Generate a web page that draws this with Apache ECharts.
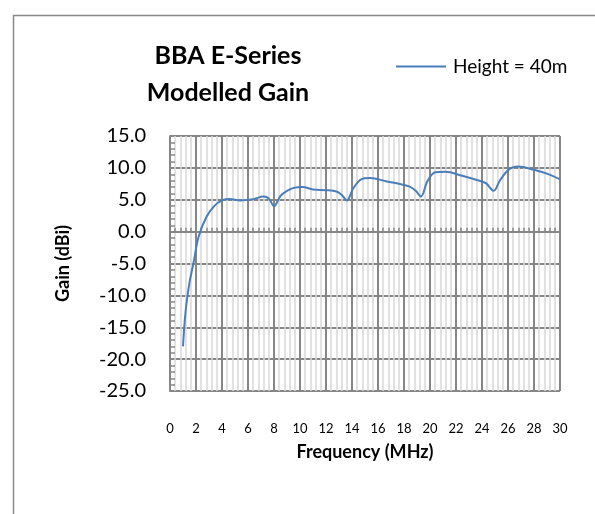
<!DOCTYPE html>
<html>
<head>
<meta charset="utf-8">
<script src="https://cdn.jsdelivr.net/npm/echarts@6/dist/echarts.min.js"></script>
<style>
  html, body { margin: 0; padding: 0; background: #fff; }
  #chart { width: 595px; height: 514px; }
</style>
</head>
<body>
<div id="chart"></div>
<script>
// Data
const freqMHz = [1.0, 1.2, 1.5, 1.8, 2.2, 2.8, 3.4, 4.0, 4.6, 5.4, 6.4, 7.2, 7.6, 8.0, 8.5, 9.0, 9.6, 10.2, 11.0, 12.0, 12.8, 13.2, 13.6, 14.1, 14.7, 15.4, 16.6, 17.6, 18.4, 18.9, 19.3, 19.8, 20.4, 21.2, 22.4, 23.6, 24.3, 24.9, 25.4, 26.1, 26.8, 28.0, 29.0, 30.0];
const gainDbi = [-18.0, -12.5, -8.0, -5.0, -0.8, 2.3, 4.0, 4.9, 5.1, 4.9, 5.1, 5.5, 5.2, 4.0, 5.6, 6.4, 6.9, 7.0, 6.6, 6.5, 6.3, 5.8, 4.9, 6.8, 8.2, 8.4, 7.9, 7.5, 7.1, 6.4, 5.5, 7.9, 9.3, 9.4, 8.8, 8.1, 7.6, 6.4, 8.1, 9.8, 10.2, 9.7, 9.1, 8.2];
const seriesName = 'Height = 40m';
const titleLines = ['BBA E-Series', 'Modelled Gain'];

const FONT = 'Lato, "Liberation Sans", sans-serif';
const GRID_COLOR = '#868686';

let chart = echarts.init(document.getElementById('chart'));

const points = freqMHz.map((f, i) => [f, gainDbi[i]]);

chart.setOption({
    animation: false,
    backgroundColor: '#fff',
    graphic: [{
        type: 'rect',
        shape: { x: 13.5, y: 15.5, width: 640, height: 540 },
        style: { fill: 'none', stroke: '#898989', lineWidth: 1.5 },
        silent: true
    }],
    title: {
        text: titleLines.join('\n'),
        left: 223,
        top: 32,
        textAlign: 'center',
        textStyle: {
            fontFamily: FONT,
            fontWeight: 'bold',
            fontSize: 25,
            lineHeight: 37,
            color: '#000'
        }
    },
    legend: {
        left: 391,
        top: 52,
        icon: 'rect',
        itemWidth: 50,
        itemHeight: 2,
        itemGap: 8,
        textStyle: { fontFamily: FONT, fontSize: 19, color: '#000', padding: [0, 0, 0, 2] },
        data: [seriesName]
    },
    grid: { left: 170, top: 136, width: 390, height: 255, containLabel: false },
    xAxis: {
        type: 'value',
        min: 0,
        max: 30,
        interval: 2,
        name: 'Frequency (MHz)',
        nameLocation: 'middle',
        nameGap: 52,
        nameTextStyle: { fontFamily: FONT, fontWeight: 'bold', fontSize: 18, color: '#000' },
        axisLine: { show: true, lineStyle: { color: GRID_COLOR, width: 2 } },
        axisTick: { show: false, inside: true },
        minorTick: { show: true, splitNumber: 5, length: 4, lineStyle: { color: GRID_COLOR, width: 1.5 } },
        axisLabel: { margin: 31, fontFamily: FONT, fontSize: 13, color: '#000' },
        splitLine: { show: true, lineStyle: { color: GRID_COLOR, width: 2 } },
        minorSplitLine: { show: true, lineStyle: { color: '#d9d9d9', width: 1.5 } }
    },
    yAxis: {
        type: 'value',
        min: -25,
        max: 15,
        interval: 5,
        name: 'Gain (dBi)',
        nameLocation: 'middle',
        nameGap: 98,
        nameTextStyle: { fontFamily: FONT, fontWeight: 'bold', fontSize: 18, color: '#000' },
        axisLine: { show: true, lineStyle: { color: GRID_COLOR, width: 2 } },
        axisTick: { show: false, inside: true },
        minorTick: { show: true, splitNumber: 5, length: 5, lineStyle: { color: GRID_COLOR, width: 1.5 } },
        axisLabel: {
            margin: 24,
            fontFamily: FONT,
            fontSize: 20,
            color: '#000',
            formatter: v => v.toFixed(1)
        },
        splitLine: { show: true, lineStyle: { color: GRID_COLOR, width: 2 } }
    },
    series: [{
        name: seriesName,
        type: 'line',
        data: points,
        smooth: 0.35,
        symbol: 'none',
        lineStyle: { color: '#4a7ebb', width: 2 },
        itemStyle: { color: '#4a7ebb' }
    }]
});
</script>
</body>
</html>
